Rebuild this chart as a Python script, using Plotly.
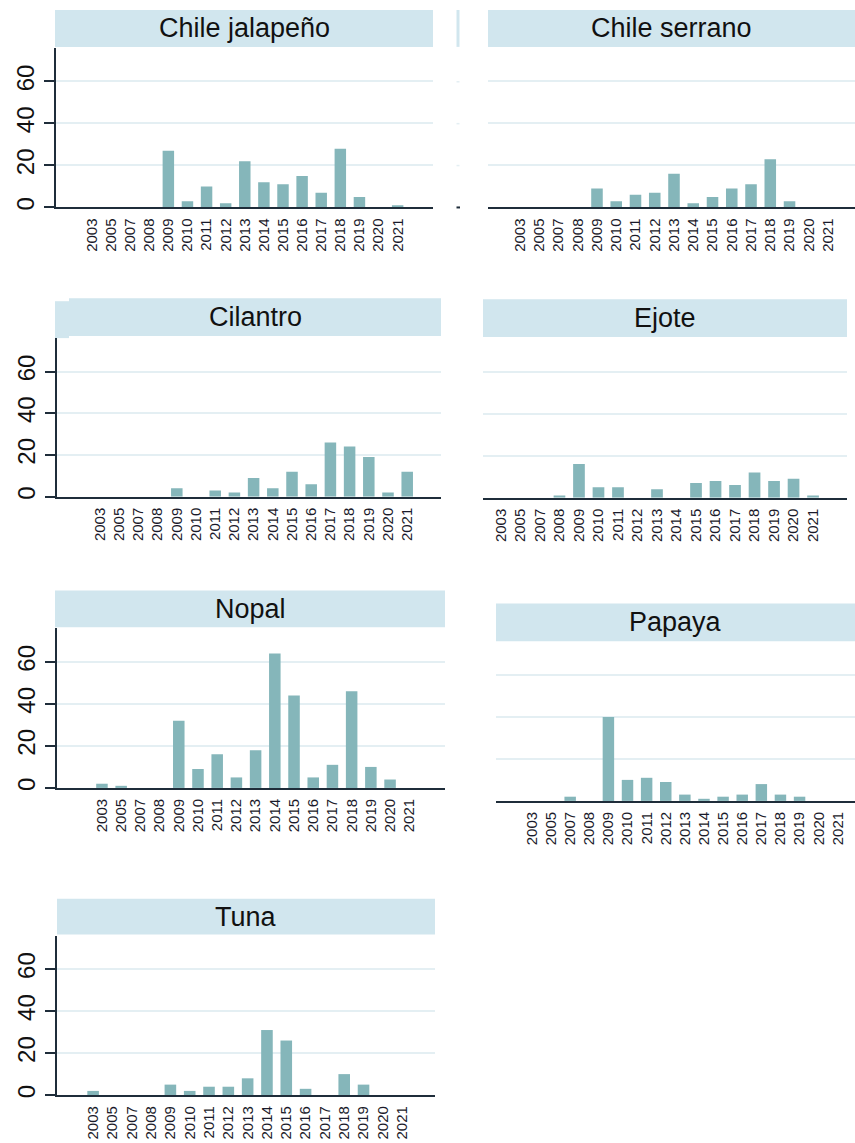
import plotly.graph_objects as go

W, H = 855, 1143

years = ["2003", "2005", "2007", "2008", "2009", "2010", "2011", "2012", "2013",
         "2014", "2015", "2016", "2017", "2018", "2019", "2020", "2021"]

jalapeno = [0, 0, 0, 0, 27, 3, 10, 2, 22, 12, 11, 15, 7, 28, 5, 0, 1]
serrano = [0, 0, 0, 0, 9, 3, 6, 7, 16, 2, 5, 9, 11, 23, 3, 0, 0]
cilantro = [0, 0, 0, 0, 4, 0, 3, 2, 9, 4, 12, 6, 26, 24, 19, 2, 12]
ejote = [0, 0, 0, 1, 16, 5, 5, 0, 4, 0, 7, 8, 6, 12, 8, 9, 1]
nopal = [2, 1, 0, 0, 32, 9, 16, 5, 18, 64, 44, 5, 11, 46, 10, 4, 0]
papaya = [0, 0, 2, 0, 40, 10, 11, 9, 3, 1, 2, 3, 8, 3, 2, 0, 0]
tuna = [2, 0, 0, 0, 5, 2, 4, 4, 8, 31, 26, 3, 0, 10, 5, 0, 0]

titles = ["Chile jalapeño", "Chile serrano", "Cilantro", "Ejote", "Nopal", "Papaya", "Tuna"]
series = [jalapeno, serrano, cilantro, ejote, nopal, papaya, tuna]

y_ticks = [0, 20, 40, 60]
y_max = 76

BAR = "#85b6ba"
HEAD = "#d1e6ee"
GRID = "#e4eff3"
AXIS = "#1f2d3a"
FONT = "Liberation Sans, Arial, sans-serif"

# layout geometry in pixels: plot box (x0, x1, ytop, ybottom), header box, x-range, show y axis
panels = [
    dict(plot=(56, 433, 48, 208), head=[(55, 433, 10, 47)], xr=(-1.88, 17.85), showy=True),
    dict(plot=(488, 855, 48, 208), head=[(488, 855, 10, 47)], xr=(-1.66, 17.4), showy=False),
    dict(plot=(57, 441, 339, 498), head=[(69, 441, 299, 337), (55, 69, 302, 339)], xr=(-2.24, 17.76), showy=True),
    dict(plot=(483, 847, 339, 499), head=[(483, 847, 300, 338)], xr=(-0.92, 17.74), showy=False),
    dict(plot=(57, 445, 630, 790), head=[(55, 445, 592, 629)], xr=(-2.34, 17.86), showy=True),
    dict(plot=(496, 855, 643, 803), head=[(496, 855, 605, 643)], xr=(-1.88, 16.9), showy=False),
    dict(plot=(57, 435, 938, 1098), head=[(57, 435, 901, 937)], xr=(-1.87, 17.7), showy=True),
]

def px_x(v):
    return v / W

def px_y(v):
    return 1 - v / H

fig = go.Figure()
layout = dict(
    width=W, height=H,
    margin=dict(l=0, r=0, t=0, b=0),
    paper_bgcolor="white", plot_bgcolor="white",
    showlegend=False, font=dict(family=FONT, color="#111111"),
    shapes=[], annotations=[],
)

for i, (p, name, vals) in enumerate(zip(panels, titles, series)):
    k = "" if i == 0 else str(i + 1)
    x0, x1, yt, yb = p["plot"]
    fig.add_trace(go.Bar(
        x=years, y=vals, xaxis="x" + k, yaxis="y" + k,
        marker=dict(color=BAR, line=dict(width=0)), width=0.6,
        hoverinfo="x+y",
    ))
    layout["xaxis" + k] = dict(
        domain=[px_x(x0), px_x(x1)], anchor="y" + k, type="category",
        range=list(p["xr"]), showgrid=False, zeroline=False,
        showline=True, linecolor=AXIS, linewidth=2, ticks="",
        tickangle=-90, tickfont=dict(size=15, color="#1a1a2a", family=FONT),
        ticklabelstandoff=3,
        categoryorder="array", categoryarray=years, fixedrange=True,
    )
    ya = dict(
        domain=[px_y(yb), px_y(yt)], anchor="x" + k,
        range=[0, y_max], tickvals=y_ticks, showgrid=True, gridcolor=GRID,
        gridwidth=1.5, zeroline=False, fixedrange=True,
    )
    if p["showy"]:
        ya.update(showline=True, linecolor=AXIS, linewidth=2, ticks="outside",
                  ticklen=10, tickwidth=2, tickcolor=AXIS, tickangle=-90,
                  tickfont=dict(size=24, color="#111111", family=FONT),
                  showticklabels=True)
    else:
        ya.update(showline=False, ticks="", showticklabels=False)
    layout["yaxis" + k] = ya

    for (hx0, hx1, hy0, hy1) in p["head"]:
        layout["shapes"].append(dict(
            type="rect", xref="paper", yref="paper",
            x0=px_x(hx0), x1=px_x(hx1), y0=px_y(hy1), y1=px_y(hy0),
            fillcolor=HEAD, line=dict(width=0), layer="below",
        ))
    main = p["head"][0]
    layout["annotations"].append(dict(
        text=name, xref="paper", yref="paper",
        x=px_x((main[0] + main[1]) / 2), y=px_y((main[2] + main[3]) / 2),
        xanchor="center", yanchor="middle", showarrow=False,
        font=dict(size=27, color="#111111", family=FONT),
    ))

# fragments of neighbouring panels visible at the left edge of "Chile serrano"
layout["shapes"].append(dict(type="rect", xref="paper", yref="paper",
                             x0=px_x(456.5), x1=px_x(459.5), y0=px_y(47), y1=px_y(10),
                             fillcolor=HEAD, line=dict(width=0), layer="below"))
for gy in (82, 124, 166):
    layout["shapes"].append(dict(type="line", xref="paper", yref="paper",
                                 x0=px_x(456.5), x1=px_x(459.5), y0=px_y(gy), y1=px_y(gy),
                                 line=dict(color=GRID, width=1.5)))
layout["shapes"].append(dict(type="line", xref="paper", yref="paper",
                             x0=px_x(456.5), x1=px_x(460), y0=px_y(208), y1=px_y(208),
                             line=dict(color=AXIS, width=2)))

fig.update_layout(**layout)
fig.write_html("out.html", config={"displayModeBar": False},
               post_script="document.body.style.margin='0';document.body.style.overflow='hidden';")
